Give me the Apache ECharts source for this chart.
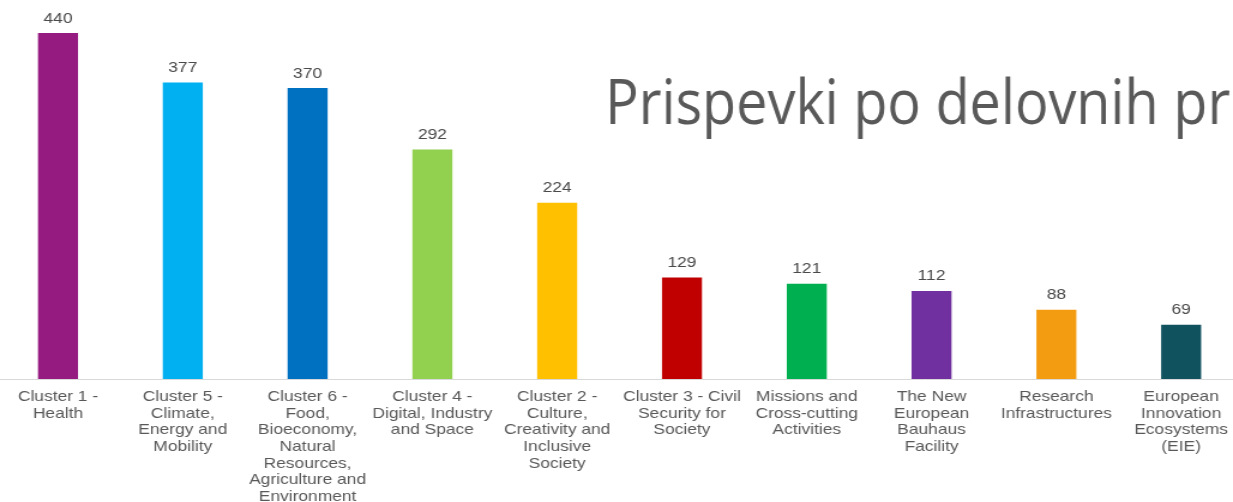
<!DOCTYPE html>
<html>
<head>
<meta charset="utf-8">
<script src="https://cdn.jsdelivr.net/npm/echarts@6/dist/echarts.min.js"></script>
<style>
html,body{margin:0;padding:0;background:#fff;overflow:hidden;}
/* the source picture is stretched sideways, so draw narrow and stretch */
#main{width:1028px;height:502px;transform:scaleX(1.1994);transform-origin:0 0;}
</style>
</head>
<body>
<div id="main"></div>
<script>
// categories in the order shown
var categories = [
	"Cluster 1 -\nHealth",
	"Cluster 5 -\nClimate,\nEnergy and\nMobility",
	"Cluster 6 -\nFood,\nBioeconomy,\nNatural\nResources,\nAgriculture and\nEnvironment",
	"Cluster 4 -\nDigital, Industry\nand Space",
	"Cluster 2 -\nCulture,\nCreativity and\nInclusive\nSociety",
	"Cluster 3 - Civil\nSecurity for\nSociety",
	"Missions and\nCross-cutting\nActivities",
	"The New\nEuropean\nBauhaus\nFacility",
	"Research\nInfrastructures",
	"European\nInnovation\nEcosystems\n(EIE)"
];
var values = [440, 377, 370, 292, 224, 129, 121, 112, 88, 69];
var barColors = ["#951B81","#00B0F0","#0070C0","#92D050","#FFC000","#C00000","#00B050","#7030A0","#F39C12","#11525F"];
var titleText = "Prispevki po delovnih pr";

var chart = echarts.init(document.getElementById('main'));

var seriesData = [];
for (var i = 0; i < values.length; i++) {
	seriesData.push({value: values[i], itemStyle: {color: barColors[i]}});
}

var option = {
	animation: false,
	backgroundColor: '#ffffff',
	// title set as narrow text (original font is condensed)
	graphic: [{
		type: 'text',
		x: 504.5,
		y: 106.5,
		scaleX: 0.738,
		style: {
			text: titleText,
			font: '63px "Open Sans"',
			fill: '#595959',
			align: 'left',
			verticalAlign: 'middle'
		}
	}],
	grid: {
		left: -3.67,
		right: -8.8,
		top: 33,
		bottom: 123,
		containLabel: false,
		outerBoundsMode: 'none'
	},
	xAxis: {
		type: 'category',
		data: categories,
		axisLine: {lineStyle: {color: '#d9d9d9', width: 1}},
		axisTick: {show: false},
		axisLabel: {
			interval: 0,
			margin: 9.5,
			fontFamily: 'Liberation Sans',
			fontSize: 14.5,
			lineHeight: 16.7,
			color: '#595959',
			align: 'center'
		}
	},
	yAxis: {
		type: 'value',
		min: 0,
		max: 440,
		show: false,
		splitLine: {show: false}
	},
	series: [{
		type: 'bar',
		data: seriesData,
		barWidth: 33.35,
		label: {
			show: true,
			position: 'top',
			distance: 7,
			fontFamily: 'Liberation Sans',
			fontSize: 14.5,
			color: '#4a4a4a'
		}
	}]
};
chart.setOption(option);
</script>
</body>
</html>
